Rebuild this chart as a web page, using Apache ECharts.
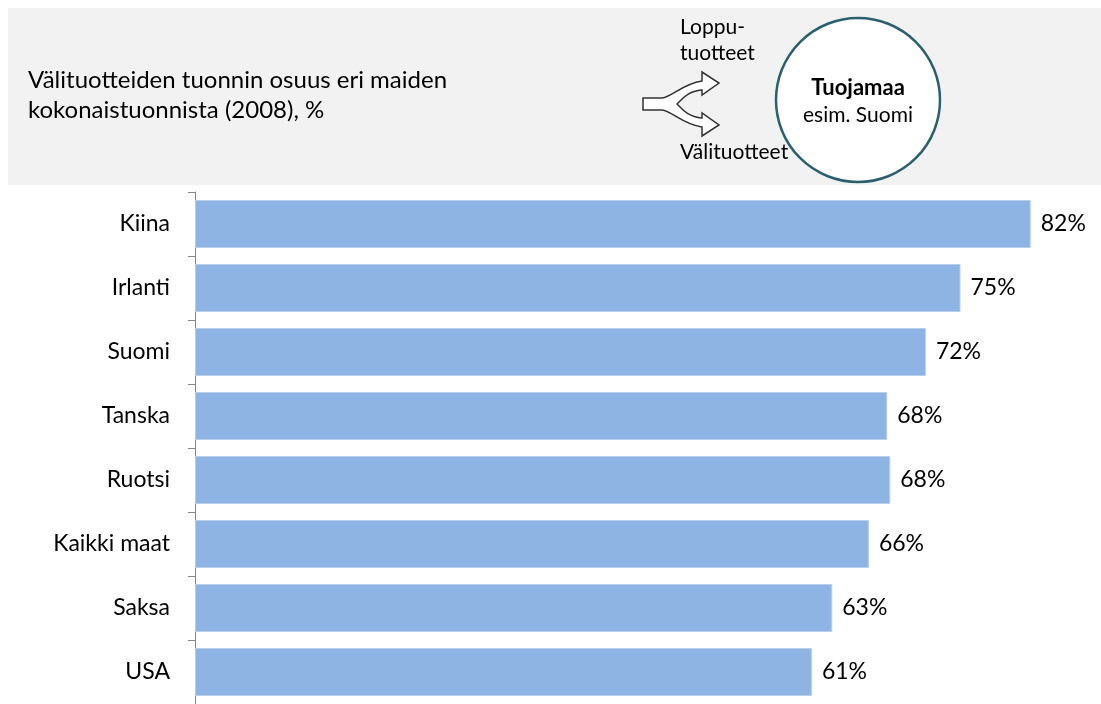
<!DOCTYPE html>
<html>
<head>
<meta charset="utf-8">
<script src="https://cdn.jsdelivr.net/npm/echarts@6/dist/echarts.min.js"></script>
<style>
  html, body { margin: 0; padding: 0; background: #fff; }
  #chart { width: 1101px; height: 704px; }
</style>
</head>
<body>
<div id="chart"></div>
<script>
// maat ylhäältä alas
var countries = ['Kiina', 'Irlanti', 'Suomi', 'Tanska', 'Ruotsi', 'Kaikki maat', 'Saksa', 'USA'];
// välituotteiden osuus kokonaistuonnista, %
var shares = [82.1, 75.2, 71.8, 68.0, 68.3, 66.2, 62.6, 60.6];

var titleLines = ['Välituotteiden tuonnin osuus eri maiden', 'kokonaistuonnista (2008), %'];

var FONT = 'Lato';

// haarautuva nuoli otsikkolaatikossa
var ForkArrow = echarts.graphic.extendShape({
  shape: {},
  buildPath: function(ctx) {
    ctx.moveTo(643, 98);
    ctx.lineTo(662, 98);
    ctx.bezierCurveTo(672, 97, 682, 84, 702, 81);
    ctx.lineTo(702, 72);
    ctx.lineTo(719, 83);
    ctx.lineTo(702, 95);
    ctx.lineTo(702, 90);
    ctx.bezierCurveTo(688, 91, 682, 99, 677, 104);
    ctx.bezierCurveTo(682, 109, 688, 117, 702, 118);
    ctx.lineTo(702, 113);
    ctx.lineTo(719, 125);
    ctx.lineTo(702, 136);
    ctx.lineTo(702, 127);
    ctx.bezierCurveTo(682, 124, 672, 111, 662, 110);
    ctx.lineTo(643, 110);
    ctx.closePath();
  }
});
echarts.graphic.registerShape('forkArrow', ForkArrow);

window.onload = function() {
  drawChart();
};

function
drawChart() {
  var chart = echarts.init(document.getElementById('chart'), null, {renderer: 'canvas'});

  var option = {
    animation: false,
    backgroundColor: '#ffffff',
    textStyle: {fontFamily: FONT},
    grid: {left: 195, top: 192, right: 0, height: 512, containLabel: false},
    xAxis: {
      type: 'value',
      min: 0,
      max: 89,
      show: false
    },
    yAxis: {
      type: 'category',
      inverse: true,
      data: countries,
      axisLine: {lineStyle: {color: '#868686', width: 1}},
      axisTick: {show: true, length: 7, lineStyle: {color: '#868686'}},
      axisLabel: {margin: 25, fontSize: 23, color: '#000', fontFamily: FONT}
    },
    series: [{
      type: 'bar',
      data: shares,
      barCategoryGap: '25%',
      itemStyle: {color: '#8eb4e3', borderColor: '#b8cfec', borderWidth: 1},
      label: {
        show: true,
        position: 'right',
        distance: 10,
        fontSize: 23,
        color: '#000',
        fontFamily: FONT,
        formatter: function(p) {
          return Math.round(p.value) + '%';
        }
      }
    }],
    graphic: [
      // harmaa otsikkolaatikko
      {
        type: 'rect',
        shape: {x: 8, y: 8, width: 1093, height: 177},
        style: {fill: '#f2f2f2'},
        silent: true
      },
      {
        type: 'text',
        x: 28,
        y: 65,
        style: {
          text: titleLines.join('\n'),
          fontSize: 24,
          lineHeight: 30,
          fill: '#000',
          fontFamily: FONT
        }
      },
      {
        type: 'forkArrow',
        shape: {},
        style: {fill: '#ffffff', stroke: '#333333', lineWidth: 1.5}
      },
      {
        type: 'text',
        x: 680,
        y: 14,
        style: {text: 'Loppu-\ntuotteet', fontSize: 21, lineHeight: 26, fill: '#000', fontFamily: FONT}
      },
      {
        type: 'text',
        x: 680,
        y: 139,
        style: {text: 'Välituotteet', fontSize: 21, lineHeight: 26, fill: '#000', fontFamily: FONT}
      },
      // tuojamaa-ympyrä
      {
        type: 'circle',
        shape: {cx: 858, cy: 100, r: 82},
        style: {fill: '#ffffff', stroke: '#2b5f6d', lineWidth: 2.5}
      },
      {
        type: 'text',
        x: 858,
        y: 88,
        style: {
          text: 'Tuojamaa',
          fontSize: 22,
          fontWeight: 'bold',
          fill: '#000',
          align: 'center',
          verticalAlign: 'middle',
          fontFamily: FONT
        }
      },
      {
        type: 'text',
        x: 858,
        y: 115,
        style: {
          text: 'esim. Suomi',
          fontSize: 21,
          fill: '#000',
          align: 'center',
          verticalAlign: 'middle',
          fontFamily: FONT
        }
      }
    ]
  };

  chart.setOption(option);
}
</script>
</body>
</html>
